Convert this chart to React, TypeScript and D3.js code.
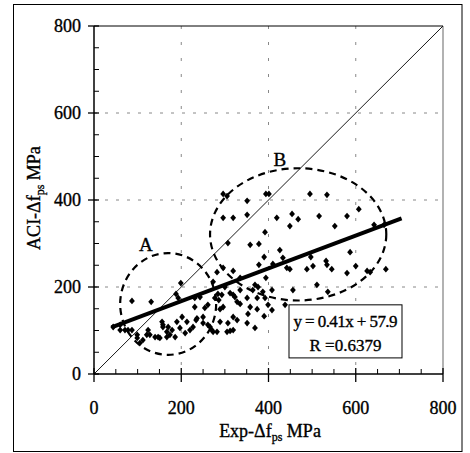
import React from 'react';
import * as d3 from 'd3';

// Experimental vs ACI prestress change (MPa)
const expDfps = [
  296, 305, 351, 394, 401, 296, 319, 351, 454, 419, 392, 307, 358, 378, 426, 390, 433,
  495, 534, 607, 468, 516, 580, 552, 449, 642, 665, 587, 488, 502, 532, 534, 545, 600,
  580, 626, 633, 669, 511, 456, 536, 449, 442, 378, 394, 335, 282, 296, 319, 410, 497,
  87, 131, 199, 188, 193, 44, 60, 78, 99, 99, 105, 121, 124, 140, 151, 156, 158, 170,
  179, 186, 190, 202, 197, 209, 220, 227, 234, 112, 147, 174,
  376, 408, 374, 351, 323, 328, 335, 284, 286, 261, 231, 254, 392, 399, 408, 374, 353,
  438, 289, 250, 261, 270, 289, 307, 351, 369, 312, 282,
  277, 293, 319, 296, 319, 328, 266, 273, 305, 319, 243, 250, 273,
  60, 71, 87, 167, 213, 236, 167, 128, 158,
  312, 300, 335, 364, 369, 387, 231, 358, 390,
];
const aciDfps = [
  414, 409, 398, 414, 414, 359, 359, 366, 368, 359, 326, 301, 297, 299, 285, 269, 267,
  414, 412, 379, 356, 363, 363, 340, 340, 343, 343, 280, 241, 248, 260, 251, 241, 248,
  232, 237, 234, 241, 205, 193, 189, 241, 244, 251, 221, 221, 234, 244, 237, 253, 269,
  168, 166, 209, 184, 175, 108, 101, 101, 90, 83, 71, 90, 101, 85, 83, 120, 108, 108,
  101, 85, 120, 131, 106, 94, 101, 108, 124, 78, 85, 90,
  200, 193, 175, 175, 177, 166, 161, 184, 170, 159, 154, 152, 175, 159, 147, 149, 138,
  159, 149, 117, 113, 101, 120, 117, 117, 106, 99, 97,
  175, 182, 182, 154, 131, 124, 108, 97, 97, 101, 177, 131, 212,
  113, 101, 101, 97, 120, 128, 85, 90, 113,
  186, 200, 193, 193, 205, 189, 175, 154, 133,
];

const majorTicks = [0, 200, 400, 600, 800];
const gridTicks = [200, 400, 600];
const minorTicks = [50, 100, 150, 250, 300, 350, 450, 500, 550, 650, 700, 750];

// regression line as drawn
const regLineX = [40, 705];
const regLineY = [107, 358];
const equationText = ['y = 0.41x + 57.9', 'R =0.6379'];
const equationBoxX = [447, 706];
const equationBoxY = [159, 37];

// annotation ellipses (data units)
const ellipseLabels = ['A', 'B'];
const ellipseCx = [170, 468];
const ellipseCy = [161, 321];
const ellipseRx = [110, 202];
const ellipseRy = [117, 152];
const labelX = [119, 426];
const labelY = [283, 478];

const FONT = '"Liberation Serif", "Times New Roman", serif';

export default function App() {
  const W = 470, H = 453;
  const x = d3.scaleLinear().domain([0, 800]).range([94, 443]);
  const y = d3.scaleLinear().domain([0, 800]).range([374, 26]);
  const kx = (x(1) - x(0));
  const ky = (y(0) - y(1));
  const diamond = 'M0,-3.4L2.9,0L0,3.4L-2.9,0Z';
  const reg = d3.line<number>().x((d) => x(regLineX[d])).y((d) => y(regLineY[d]));
  const ts = { stroke: '#000', strokeWidth: 0.35 } as const;

  return (
    <svg width={W} height={H} style={{ position: 'absolute', left: 0, top: 0, background: '#fff' }} fontFamily={FONT}>
      <rect x={0} y={0} width={W} height={H} fill="#fff" />
      <rect x={13.5} y={4.5} width={448.5} height={447} fill="none" stroke="#000" strokeWidth={1} />

      {/* grid */}
      {gridTicks.map((t) => (
        <g key={'g' + t}>
          <line x1={x(t)} x2={x(t)} y1={y(800)} y2={y(0)} stroke="#888" strokeWidth={1} strokeDasharray="3,13" />
          <line x1={x(0)} x2={x(800)} y1={y(t)} y2={y(t)} stroke="#888" strokeWidth={1} strokeDasharray="3,8" />
        </g>
      ))}

      {/* plot frame */}
      <line x1={x(0)} x2={x(800)} y1={y(800)} y2={y(800)} stroke="#000" strokeWidth={1} />
      <line x1={x(800)} x2={x(800)} y1={y(800)} y2={y(0)} stroke="#999" strokeWidth={1.5} />

      {/* diagonal y = x */}
      <line x1={x(0)} y1={y(0)} x2={x(800)} y2={y(800)} stroke="#000" strokeWidth={0.9} />

      {/* points */}
      {expDfps.map((v, i) => (
        <path key={'p' + i} d={diamond} transform={`translate(${x(v)},${y(aciDfps[i])})`} fill="#000" />
      ))}

      {/* ellipses */}
      {ellipseLabels.map((l, i) => (
        <g key={'e' + l}>
          <ellipse cx={x(ellipseCx[i])} cy={y(ellipseCy[i])} rx={ellipseRx[i] * kx} ry={ellipseRy[i] * ky}
            fill="none" stroke="#000" strokeWidth={2.2} strokeDasharray="7,5" />
          <text x={x(labelX[i])} y={y(labelY[i])} textAnchor="middle" fontSize={19} {...ts}>{l}</text>
        </g>
      ))}

      {/* regression line */}
      <path d={reg([0, 1]) || ''} stroke="#000" strokeWidth={4} fill="none" />

      {/* axes */}
      <line x1={x(0)} x2={x(0)} y1={y(800)} y2={y(0)} stroke="#000" strokeWidth={1.5} />
      <line x1={x(0)} x2={x(800)} y1={y(0)} y2={y(0)} stroke="#000" strokeWidth={1.5} />
      {majorTicks.map((t) => (
        <g key={'mt' + t}>
          <line x1={x(0) - 6} x2={x(0) + 5} y1={y(t)} y2={y(t)} stroke="#000" strokeWidth={1.3} />
          <line x1={x(t)} x2={x(t)} y1={y(0) - 6} y2={y(0) + 8} stroke="#000" strokeWidth={1.3} />
          <text x={81} y={y(t) + 6} textAnchor="end" fontSize={18} {...ts}>{t}</text>
          <text x={x(t)} y={414} textAnchor="middle" fontSize={18} {...ts}>{t}</text>
        </g>
      ))}
      {minorTicks.map((t) => (
        <g key={'mn' + t}>
          <line x1={x(0)} x2={x(0) + 5} y1={y(t)} y2={y(t)} stroke="#000" strokeWidth={1} />
          <line x1={x(t)} x2={x(t)} y1={y(0) - 5} y2={y(0)} stroke="#000" strokeWidth={1} />
        </g>
      ))}

      {/* equation box */}
      <rect x={x(equationBoxX[0])} y={y(equationBoxY[0])} width={x(equationBoxX[1]) - x(equationBoxX[0])}
        height={y(equationBoxY[1]) - y(equationBoxY[0])} fill="#fff" stroke="#000" strokeWidth={1} />
      <text x={(x(equationBoxX[0]) + x(equationBoxX[1])) / 2} y={y(equationBoxY[0]) + 22} textAnchor="middle" fontSize={17}
        textLength={104} lengthAdjust="spacing" {...ts}>{equationText[0]}</text>
      <text x={(x(equationBoxX[0]) + x(equationBoxX[1])) / 2} y={y(equationBoxY[0]) + 46} textAnchor="middle" fontSize={17} {...ts}>{equationText[1]}</text>

      {/* axis titles */}
      <text x={270} y={437} textAnchor="middle" fontSize={18} {...ts}>
        Exp-Δf<tspan fontSize={12} dy={4}>ps</tspan><tspan dy={-4}> MPa</tspan>
      </text>
      <text transform={`translate(40,198) rotate(-90)`} textAnchor="middle" fontSize={18} {...ts}>
        ACI-Δf<tspan fontSize={12} dy={4}>ps</tspan><tspan dy={-4}> MPa</tspan>
      </text>
    </svg>
  );
}
